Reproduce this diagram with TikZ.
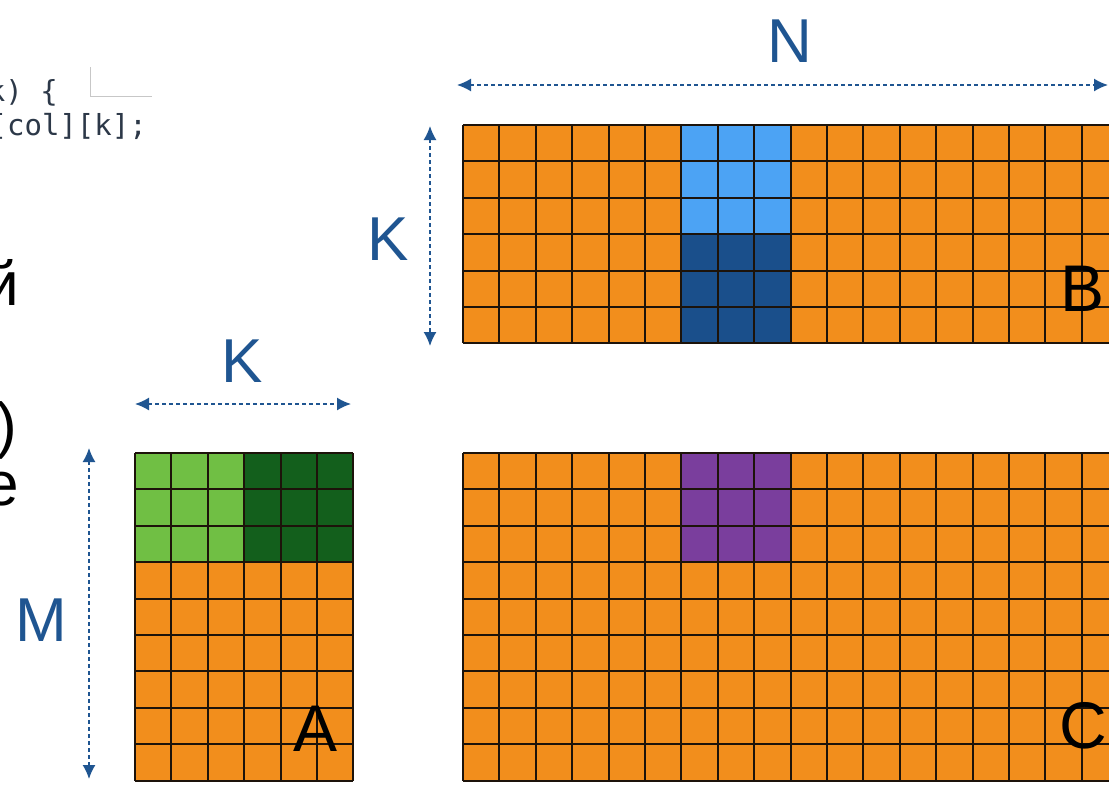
\documentclass[tikz,border=0pt]{standalone}
\usepackage{fontspec}
\setmainfont{Liberation Sans}
\newfontfamily\codefont{DejaVu Sans Mono}
\usetikzlibrary{arrows.meta}
\definecolor{cellorange}{HTML}{F28E1C}
\definecolor{blightblue}{HTML}{4CA3F4}
\definecolor{bdarkblue}{HTML}{1A4F8B}
\definecolor{alightgreen}{HTML}{70BF44}
\definecolor{adarkgreen}{HTML}{135F1C}
\definecolor{cpurple}{HTML}{7A3E9D}
\definecolor{dimblue}{HTML}{1F5591}
\definecolor{codegray}{HTML}{2C3848}
\def\cs{36.4}
\tikzset{
  gridline/.style={draw=black!85!brown, line width=2pt},
  dimarrow/.style={{Latex[length=14pt,width=13pt]}-{Latex[length=14pt,width=13pt]}, dimblue, line width=1.6pt, dash pattern=on 4pt off 3pt},
  dimlabel/.style={text=dimblue, font=\fontsize{62}{62}\selectfont, inner sep=0pt},
  matlabel/.style={text=black, font=\fontsize{66}{66}\selectfont, inner sep=0pt},
  slidetext/.style={text=black, font=\fontsize{62}{62}\selectfont, inner sep=0pt, anchor=base east},
  codetext/.style={text=codegray, font=\codefont\fontsize{29}{29}\selectfont, inner sep=0pt, anchor=base east}
}

\begin{document}
\begin{tikzpicture}[x=1pt, y=-1pt]
  \useasboundingbox (0,0) rectangle (1109,785);
  \fill[white] (0,0) rectangle (1109,785);
  \clip (0,0) rectangle (1109,785);

  % leftovers of the slide
  \node[codetext] (code1) at (58,101) {k) \{};
  \node[codetext] (code2) at (147,135) {[col][k];};
  \draw[black!22, line width=1pt] (90,67) -- (90,96) -- (152,96);
  \node[slidetext] (txt1) at (19,305) {й};
  \node[slidetext] (txt2) at (17,446) {)};
  \node[slidetext] (txt3) at (19,505) {е};

  % matrix B
  \begin{scope}[shift={(463,125)}]
    \fill[cellorange] (0,0) rectangle (18*\cs,6*\cs);
    \fill[blightblue] (6*\cs,0) rectangle (9*\cs,3*\cs);
    \fill[bdarkblue] (6*\cs,3*\cs) rectangle (9*\cs,6*\cs);
    \foreach \i in {0,...,18} \draw[gridline] (\i*\cs,0) -- (\i*\cs,6*\cs);
    \foreach \j in {0,...,6} \draw[gridline] (0,\j*\cs) -- (18*\cs,\j*\cs);
  \end{scope}

  % matrix C
  \begin{scope}[shift={(463,453)}]
    \fill[cellorange] (0,0) rectangle (18*\cs,9*\cs);
    \fill[cpurple] (6*\cs,0) rectangle (9*\cs,3*\cs);
    \foreach \i in {0,...,18} \draw[gridline] (\i*\cs,0) -- (\i*\cs,9*\cs);
    \foreach \j in {0,...,9} \draw[gridline] (0,\j*\cs) -- (18*\cs,\j*\cs);
  \end{scope}

  % matrix A
  \begin{scope}[shift={(135,453)}]
    \fill[cellorange] (0,0) rectangle (6*\cs,9*\cs);
    \fill[alightgreen] (0,0) rectangle (3*\cs,3*\cs);
    \fill[adarkgreen] (3*\cs,0) rectangle (6*\cs,3*\cs);
    \foreach \i in {0,...,6} \draw[gridline] (\i*\cs,0) -- (\i*\cs,9*\cs);
    \foreach \j in {0,...,9} \draw[gridline] (0,\j*\cs) -- (6*\cs,\j*\cs);
  \end{scope}

  % dimensions
  \coordinate (nleft) at (457,85);
  \coordinate (nright) at (1108,85);
  \coordinate (kbtop) at (430,126);
  \coordinate (kbbot) at (430,346);
  \coordinate (kaleft) at (135,404);
  \coordinate (karight) at (351,404);
  \coordinate (mtop) at (89,448);
  \coordinate (mbot) at (89,779);
  \draw[dimarrow] (nleft) -- (nright);
  \draw[dimarrow] (kbtop) -- (kbbot);
  \draw[dimarrow] (kaleft) -- (karight);
  \draw[dimarrow] (mtop) -- (mbot);

  \node[dimlabel] (nlab) at (790,41) {N};
  \node[dimlabel] (kblab) at (388,239) {K};
  \node[dimlabel] (kalab) at (242,361) {K};
  \node[dimlabel] (mlab) at (41,620) {M};

  \node[matlabel] (alab) at (316,729) {A};
  \node[matlabel] (blab) at (1083,289) {B};
  \node[matlabel] (clab) at (1083,726) {C};
\end{tikzpicture}
\end{document}
